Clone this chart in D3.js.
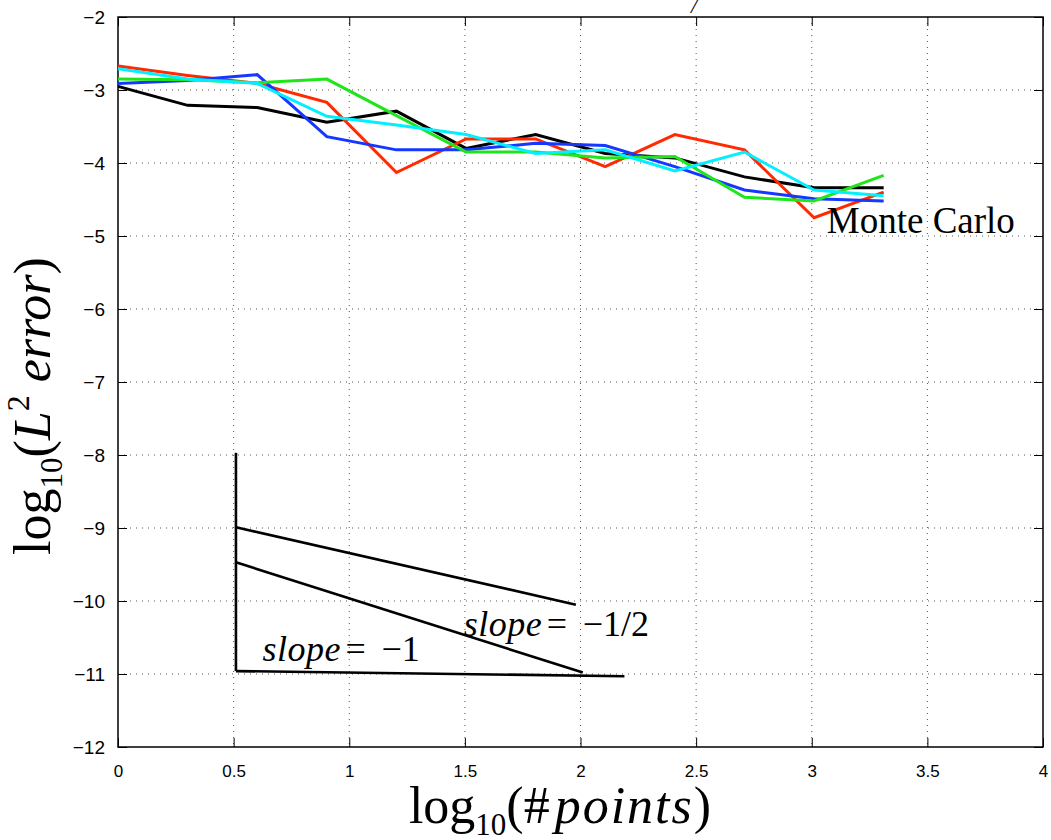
<!DOCTYPE html>
<html>
<head>
<meta charset="utf-8">
<script src="https://cdn.jsdelivr.net/npm/d3@7"></script>
<style>
  body { margin: 0; background: #fff; }
  svg { display: block; }
</style>
</head>
<body>
<svg id="chart" width="1051" height="840"></svg>
<script>
// x = log10(number of points)
var logPoints = [0, 0.301, 0.602, 0.903, 1.204, 1.505, 1.806, 2.107, 2.408, 2.709, 3.010, 3.311];

// log10 of L2 error, one run per colour
var runBlack = [-2.95, -3.21, -3.24, -3.44, -3.29, -3.80, -3.61, -3.87, -3.93, -4.19, -4.34, -4.34];
var runRed   = [-2.67, -2.80, -2.91, -3.17, -4.13, -3.67, -3.67, -4.05, -3.61, -3.82, -4.75, -4.40];
var runBlue  = [-2.91, -2.87, -2.79, -3.64, -3.82, -3.82, -3.73, -3.76, -4.05, -4.37, -4.49, -4.52];
var runGreen = [-2.85, -2.86, -2.90, -2.85, -3.35, -3.85, -3.85, -3.93, -3.91, -4.47, -4.52, -4.17];
var runCyan  = [-2.71, -2.85, -2.91, -3.36, -3.48, -3.61, -3.87, -3.82, -4.11, -3.85, -4.37, -4.45];

var runNames  = ["black", "red", "blue", "green", "cyan"];
var runColors = ["#000000", "#ff2a00", "#1438ff", "#1ee61a", "#00f0ff"];

// slope triangle guide lines
var guideVertical = [[0.51, -7.97], [0.51, -10.96]];
var guideBase     = [[0.51, -10.96], [2.19, -11.03]];
var guideHalf     = [[0.51, -8.99], [1.98, -10.05]];
var guideOne      = [[0.51, -9.47], [2.01, -10.98]];

var xTicks = [0, 0.5, 1, 1.5, 2, 2.5, 3, 3.5, 4];
var yTicks = [-2, -3, -4, -5, -6, -7, -8, -9, -10, -11, -12];

var margin = {top: 17, right: 8, bottom: 93, left: 118};
var width = 1051 - margin.left - margin.right;
var height = 840 - margin.top - margin.bottom;

var svg = d3.select("#chart");
var g = svg.append("g").attr("transform", "translate(" + margin.left + "," + margin.top + ")");

var x = d3.scaleLinear().domain([0, 4]).range([0, width]);
var y = d3.scaleLinear().domain([-12, -2]).range([height, 0]);

var tickFont = "'Liberation Sans', Arial, sans-serif";
var mathFont = "'Liberation Serif', 'Times New Roman', serif";

// dotted grid
g.append("g").selectAll("line").data(xTicks.slice(1, -1)).enter().append("line")
	.attr("x1", d => x(d)).attr("x2", d => x(d))
	.attr("y1", 0).attr("y2", height)
	.attr("stroke", "#555").attr("stroke-width", 1).attr("stroke-dasharray", "1,5");
g.append("g").selectAll("line").data(yTicks.slice(1, -1)).enter().append("line")
	.attr("y1", d => y(d)).attr("y2", d => y(d))
	.attr("x1", 0).attr("x2", width)
	.attr("stroke", "#555").attr("stroke-width", 1).attr("stroke-dasharray", "1,5");

// axes with inward ticks, matlab style
var xAxis = d3.axisBottom(x).tickValues(xTicks).tickSize(-9).tickPadding(18)
	.tickFormat(d => String(d));
var yAxis = d3.axisLeft(y).tickValues(yTicks).tickSize(-9).tickPadding(13)
	.tickFormat(d => String(d).replace("-", "\u2212"));

var gx = g.append("g").attr("transform", "translate(0," + height + ")").call(xAxis);
var gy = g.append("g").call(yAxis);
g.append("g").call(d3.axisTop(x).tickValues(xTicks).tickSize(-9).tickFormat(""));
g.append("g").attr("transform", "translate(" + width + ",0)")
	.call(d3.axisRight(y).tickValues(yTicks).tickSize(-9).tickFormat(""));

g.selectAll(".domain").remove();
g.selectAll(".tick line").attr("stroke", "#000").attr("stroke-width", 1);
gx.selectAll("text").attr("font-family", tickFont).attr("font-size", 17).attr("fill", "#000");
gy.selectAll("text").attr("font-family", tickFont).attr("font-size", 19).attr("fill", "#000");

// frame
g.append("rect").attr("x", 0).attr("y", 0).attr("width", width).attr("height", height)
	.attr("fill", "none").attr("stroke", "#000").attr("stroke-width", 1.5);

var line = d3.line().x(d => x(d[0])).y(d => y(d[1]));

var runs = [runBlack, runRed, runBlue, runGreen, runCyan];
runs.forEach(function(vals, i){
	g.append("path")
		.datum(logPoints.map((p, k) => [p, vals[k]]))
		.attr("class", "run-" + runNames[i])
		.attr("d", line)
		.attr("fill", "none")
		.attr("stroke", runColors[i])
		.attr("stroke-width", 3)
		.attr("stroke-linejoin", "miter");
});

[guideVertical, guideBase, guideHalf, guideOne].forEach(function(seg){
	g.append("path").datum(seg).attr("d", line)
		.attr("fill", "none").attr("stroke", "#000").attr("stroke-width", 2.6);
});

// annotations
g.append("text").attr("x", x(3.065)).attr("y", y(-4.96))
	.attr("font-family", mathFont).attr("font-size", 37).text("Monte Carlo");

function slopeLabel(px, py, value) {
	var t = g.append("text").attr("x", px).attr("y", py)
		.attr("font-family", mathFont).attr("font-size", 36);
	t.append("tspan").attr("font-style", "italic").attr("letter-spacing", 0.5).text("slope");
	t.append("tspan").attr("x", px + 83).text("=");
	t.append("tspan").attr("x", px + 119).text("\u2212" + value);
}
slopeLabel(x(1.495), y(-10.48), "1/2");
slopeLabel(x(0.625), y(-10.82), "1");

// bit of the cut off title
svg.append("text").attr("x", 691).attr("y", 13)
	.attr("font-family", mathFont).attr("font-style", "italic").attr("font-size", 22).text("/");

// x label
var xl = svg.append("text").attr("x", 560).attr("y", 823).attr("text-anchor", "middle")
	.attr("font-family", mathFont).attr("font-size", 52);
xl.append("tspan").text("log");
xl.append("tspan").attr("font-size", 31).attr("dy", 12).text("10");
xl.append("tspan").attr("dy", -12).text("(#");
xl.append("tspan").attr("font-style", "italic").attr("letter-spacing", 2).attr("dx", 5).text("points");
xl.append("tspan").text(")");

// y label
var yl = svg.append("text").attr("transform", "translate(50,406) rotate(-90)")
	.attr("text-anchor", "middle").attr("font-family", mathFont).attr("font-size", 52);
yl.append("tspan").text("log");
yl.append("tspan").attr("font-size", 31).attr("dy", 12).text("10");
yl.append("tspan").attr("dy", -12).text("(");
yl.append("tspan").attr("font-style", "italic").text("L");
yl.append("tspan").attr("font-size", 32).attr("dy", -21).text("2");
yl.append("tspan").attr("dy", 21).text(" ");
yl.append("tspan").attr("font-style", "italic").text("error");
yl.append("tspan").text(")");
</script>
</body>
</html>
